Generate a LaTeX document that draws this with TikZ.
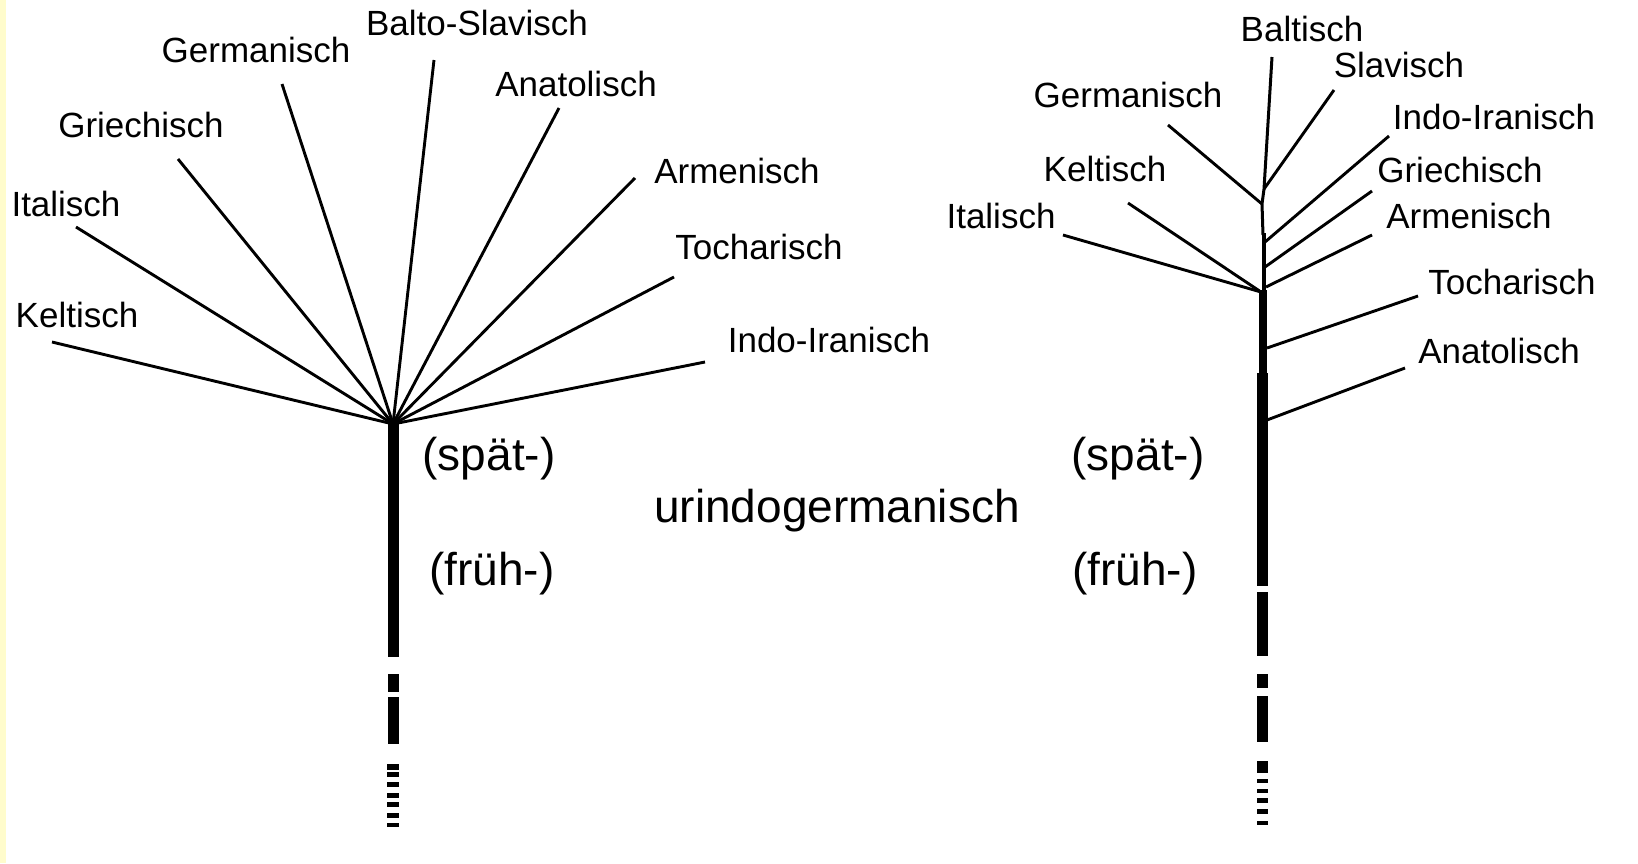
\documentclass[tikz,border=0pt]{standalone}
\usepackage{fontspec}
\setmainfont{Liberation Sans}
\begin{document}
\begin{tikzpicture}[x=1pt,y=-1pt,
  branch/.style={line width=2.9pt,line cap=butt},
  trunkseg/.style={line width=11pt,line cap=butt},
  lab/.style={inner sep=0pt,font=\fontsize{35}{40}\selectfont},
  biglab/.style={inner sep=0pt,font=\fontsize{46}{52}\selectfont}]
\useasboundingbox (0,0) rectangle (1638,863);
\fill[white] (0,0) rectangle (1638,863);
\fill[yellow!20] (0,0) rectangle (6,863);

% ---------- left tree: all branches from one point ----------
\coordinate (L0) at (393,424);
\coordinate (lKel) at (52,342);
\coordinate (lIta) at (76,227);
\coordinate (lGri) at (178,159);
\coordinate (lGer) at (282,84);
\coordinate (lBsl) at (434,60);
\coordinate (lAna) at (559,108);
\coordinate (lArm) at (635,178);
\coordinate (lToc) at (674,277);
\coordinate (lInd) at (705,362);
\foreach \e in {lKel,lIta,lGri,lGer,lBsl,lAna,lArm,lToc,lInd}
  \draw[branch] (L0) -- (\e);

% trunk with dashed lower end
\draw[trunkseg] (393,423) -- (393,657);
\draw[trunkseg] (393,674) -- (393,692);
\draw[trunkseg] (393,697) -- (393,744);
\foreach \a/\b in {764/770,772/777,782/787,793/798,802/807,813/818,823/827}
  \draw[line width=12pt] (393,\a) -- (393,\b);

\node[lab] (tBsl) at (477,23) {Balto-Slavisch};
\node[lab] (tGerL) at (256,50) {Germanisch};
\node[lab] (tGriL) at (141,125) {Griechisch};
\node[lab] (tItaL) at (66,204) {Italisch};
\node[lab] (tKelL) at (77,315) {Keltisch};
\node[lab] (tAnaL) at (576,84) {Anatolisch};
\node[lab] (tArmL) at (737,171) {Armenisch};
\node[lab] (tTocL) at (759,247) {Tocharisch};
\node[lab] (tIndL) at (829,340) {Indo-Iranisch};
\node[biglab] (spL) at (489,459) {(spät-)};
\node[biglab] (frL) at (492,574) {(früh-)};
\node[biglab] (uig) at (837,511) {urindogermanisch};

% ---------- right tree: successive splits along the trunk ----------
\coordinate (rTop) at (1272,57);
\coordinate (rBS) at (1264,189);
\coordinate (rGe) at (1262,204);
\coordinate (rII) at (1265,242);
\coordinate (rGr) at (1265,267);
\coordinate (rAr) at (1266,287);
\coordinate (rIK) at (1261,292);
\coordinate (rTo) at (1267,348);
\coordinate (rAn) at (1267,420);

\draw[line width=3pt] (rTop) -- (rBS) -- (rGe) -- (1263,235);
\draw[line width=4.5pt,line cap=butt] (1264,233) -- (1264,292);
\draw[line width=8pt,line cap=butt] (1263,290) -- (1263,375);
\draw[trunkseg] (1262,373) -- (1262,586);
\draw[trunkseg] (1262,592) -- (1262,656);
\draw[trunkseg] (1262,674) -- (1262,688);
\draw[trunkseg] (1262,696) -- (1262,742);
\draw[trunkseg] (1262,761) -- (1262,773);
\foreach \a/\b in {779/783,789/793,798/803,809/814,821/825}
  \draw[trunkseg] (1262,\a) -- (1262,\b);

\draw[branch] (rBS) -- (1334,90);
\draw[branch] (rGe) -- (1168,125);
\draw[branch] (rII) -- (1389,136);
\draw[branch] (rGr) -- (1372,191);
\draw[branch] (rAr) -- (1372,235);
\draw[branch] (rIK) -- (1128,203);
\draw[branch] (rIK) -- (1063,235);
\draw[branch] (rTo) -- (1418,296);
\draw[branch] (rAn) -- (1405,368);

\node[lab] (tBal) at (1302,29) {Baltisch};
\node[lab] (tSla) at (1399,65) {Slavisch};
\node[lab] (tGerR) at (1128,95) {Germanisch};
\node[lab] (tIndR) at (1494,117) {Indo-Iranisch};
\node[lab] (tKelR) at (1105,169) {Keltisch};
\node[lab] (tGriR) at (1460,170) {Griechisch};
\node[lab] (tItaR) at (1001,216) {Italisch};
\node[lab] (tArmR) at (1469,216) {Armenisch};
\node[lab] (tTocR) at (1512,282) {Tocharisch};
\node[lab] (tAnaR) at (1499,351) {Anatolisch};
\node[biglab] (spR) at (1138,459) {(spät-)};
\node[biglab] (frR) at (1135,574) {(früh-)};
\end{tikzpicture}
\end{document}
